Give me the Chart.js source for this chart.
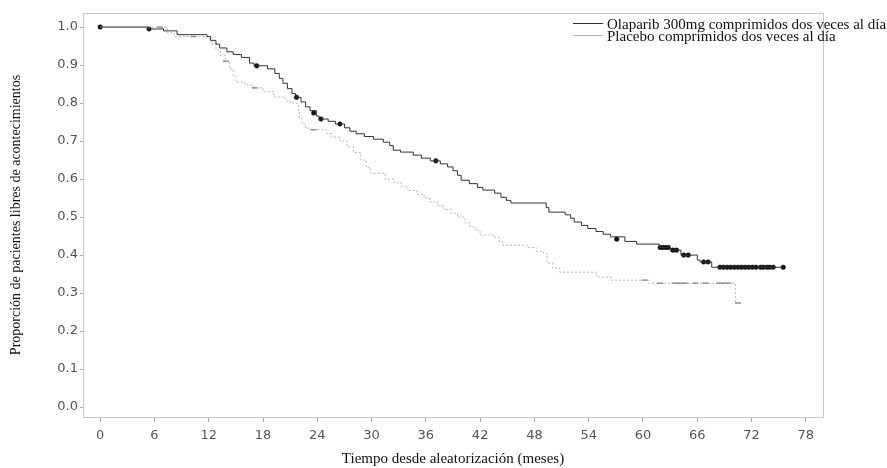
<!DOCTYPE html>
<html>
<head>
<meta charset="utf-8">
<script src="https://cdn.jsdelivr.net/npm/chart.js@4"></script>
<style>
  body { margin: 0; background: #fff; }
</style>
</head>
<body>
<canvas id="kmChart" width="887" height="468"></canvas>
<script>
// curva Olaparib (meses, proporción)
const olaTime = [0, 5.3, 7.0, 8.5, 11.8, 12.2, 12.8, 13.2, 14.0, 14.7, 15.6, 16.5, 17.0, 18.5, 19.3, 19.8, 20.2, 20.7, 21.2, 21.6, 22.2, 22.7, 23.2, 23.9, 24.2, 25.2, 26.0, 27.0, 27.6, 28.3, 29.2, 30.2, 31.3, 32.0, 32.4, 33.2, 34.6, 35.5, 36.5, 37.6, 38.4, 39.0, 39.5, 39.9, 40.8, 41.7, 42.3, 43.6, 44.3, 44.9, 45.4, 49.3, 49.6, 51.4, 52.0, 52.4, 53.2, 53.9, 54.8, 55.6, 56.4, 58.0, 59.3, 61.8, 63.0, 64.2, 66.0, 66.3, 67.6, 75.5];
const olaSurv = [1.0, 0.995, 0.99, 0.98, 0.975, 0.965, 0.955, 0.945, 0.935, 0.928, 0.92, 0.905, 0.898, 0.89, 0.878, 0.865, 0.852, 0.838, 0.825, 0.815, 0.803, 0.79, 0.78, 0.766, 0.758, 0.752, 0.745, 0.735, 0.726, 0.719, 0.712, 0.705, 0.697, 0.688, 0.676, 0.671, 0.663, 0.655, 0.648, 0.64, 0.632, 0.622, 0.61, 0.597, 0.588, 0.578, 0.571, 0.563, 0.552, 0.544, 0.537, 0.525, 0.513, 0.506, 0.497, 0.487, 0.478, 0.47, 0.462, 0.455, 0.448, 0.436, 0.429, 0.42, 0.413, 0.40, 0.387, 0.382, 0.368, 0.368];
const olaCensTime = [0, 5.4, 17.3, 21.7, 23.6, 24.4, 26.5, 37.1, 57.1, 61.9, 62.2, 62.5, 62.8, 63.3, 63.7, 64.5, 65.0, 66.7, 67.2, 68.5, 68.9, 69.3, 69.7, 70.1, 70.5, 70.9, 71.3, 71.7, 72.1, 72.5, 73.0, 73.3, 73.7, 74.0, 74.4, 75.5];
const olaCensSurv = [1.0, 0.995, 0.898, 0.815, 0.774, 0.758, 0.745, 0.648, 0.442, 0.42, 0.42, 0.42, 0.42, 0.413, 0.413, 0.40, 0.40, 0.382, 0.382, 0.368, 0.368, 0.368, 0.368, 0.368, 0.368, 0.368, 0.368, 0.368, 0.368, 0.368, 0.368, 0.368, 0.368, 0.368, 0.368, 0.368];

// curva Placebo
const plaTime = [0, 7.4, 8.2, 11.8, 12.3, 12.8, 13.3, 13.8, 14.3, 14.7, 15.0, 16.0, 17.0, 18.0, 19.2, 20.5, 21.0, 21.9, 22.0, 22.3, 22.7, 23.0, 25.0, 25.6, 26.5, 27.3, 28.0, 28.8, 29.4, 29.9, 31.5, 32.5, 33.3, 34.0, 35.0, 35.8, 36.4, 37.3, 38.0, 38.8, 39.5, 40.3, 40.9, 41.5, 42.0, 43.4, 44.1, 44.5, 47.2, 48.2, 49.0, 49.4, 50.0, 50.8, 54.9, 56.5, 60.6, 70.2, 70.8];
const plaSurv = [1.0, 0.985, 0.975, 0.97, 0.955, 0.94, 0.925, 0.91, 0.89, 0.87, 0.855, 0.848, 0.84, 0.83, 0.816, 0.805, 0.80, 0.78, 0.76, 0.745, 0.735, 0.73, 0.72, 0.71, 0.70, 0.685, 0.67, 0.65, 0.63, 0.615, 0.60, 0.59, 0.58, 0.57, 0.56, 0.55, 0.54, 0.53, 0.52, 0.51, 0.50, 0.485, 0.474, 0.465, 0.453, 0.447, 0.435, 0.426, 0.42, 0.41, 0.405, 0.379, 0.366, 0.355, 0.342, 0.334, 0.326, 0.274, 0.274];
const plaCensTime = [6.6, 10.3, 13.9, 17.1, 23.6, 60.2, 61.9, 63.5, 64.0, 64.6, 65.8, 66.9, 68.4, 68.8, 69.4, 70.5];
const plaCensSurv = [1.0, 0.975, 0.91, 0.84, 0.73, 0.334, 0.326, 0.326, 0.326, 0.326, 0.326, 0.326, 0.326, 0.326, 0.326, 0.274];

const seriesLabels = ["Olaparib 300mg comprimidos dos veces al día", "Placebo comprimidos dos veces al día"];
const xTickValues = [0, 6, 12, 18, 24, 30, 36, 42, 48, 54, 60, 66, 72, 78];
const yTickValues = [0, 0.1, 0.2, 0.3, 0.4, 0.5, 0.6, 0.7, 0.8, 0.9, 1.0];
const xTitle = "Tiempo desde aleatorización (meses)";
const yTitle = "Proporción de pacientes libres de acontecimientos";

const olaColor = "#333";
const plaColor = "#b4b4b4";

function pts(xs, ys) {
    return xs.map((x, i) => ({ x: x, y: ys[i] }));
}

// marco gris y leyenda dibujada a mano
const framePlugin = {
    id: "frame",
    afterDatasetsDraw(chart) {
        const a = chart.chartArea, ctx = chart.ctx;
        ctx.save();
        ctx.strokeStyle = "#c8c8c8";
        ctx.lineWidth = 1;
        ctx.strokeRect(a.left + 0.5, a.top + 0.5, a.right - a.left, a.bottom - a.top);
        ctx.restore();
    },
    afterDraw(chart) {
        const ctx = chart.ctx;
        const colors = [olaColor, plaColor];
        ctx.save();
        ctx.font = "15px 'Liberation Serif', 'Times New Roman', serif";
        ctx.textBaseline = "middle";
        seriesLabels.forEach((lab, i) => {
            const y = 23 + i * 12;
            ctx.strokeStyle = colors[i];
            ctx.lineWidth = 1;
            ctx.beginPath();
            ctx.moveTo(573, y + 0.5);
            ctx.lineTo(603, y + 0.5);
            ctx.stroke();
            ctx.fillStyle = "#111";
            ctx.fillText(lab, 607, y + 2);
        });
        ctx.restore();
    }
};

new Chart(document.getElementById("kmChart").getContext("2d"), {
    type: "line",
    data: {
        datasets: [
            {
                label: seriesLabels[0],
                data: pts(olaTime, olaSurv),
                borderColor: olaColor,
                borderWidth: 1,
                stepped: true,
                pointRadius: 0,
                fill: false
            },
            {
                label: seriesLabels[1],
                data: pts(plaTime, plaSurv),
                borderColor: plaColor,
                borderWidth: 1,
                borderDash: [2, 2],
                stepped: true,
                pointRadius: 0,
                fill: false
            },
            {
                type: "scatter",
                label: "olaCens",
                data: pts(olaCensTime, olaCensSurv),
                pointStyle: "circle",
                pointRadius: 2.3,
                backgroundColor: "#111",
                borderColor: "#111",
                borderWidth: 0.5
            },
            {
                type: "scatter",
                label: "plaCens",
                data: pts(plaCensTime, plaCensSurv),
                pointStyle: "line",
                pointRadius: 3,
                borderColor: "#888",
                borderWidth: 1.5
            }
        ]
    },
    options: {
        responsive: false,
        animation: false,
        layout: { padding: { left: 0, top: 13, right: 64, bottom: 0 } },
        plugins: {
            legend: { display: false },
            tooltip: { enabled: false }
        },
        scales: {
            x: {
                type: "linear",
                min: -1.9,
                max: 79.9,
                afterFit: s => { s.height = 51; },
                afterBuildTicks: s => { s.ticks = xTickValues.map(v => ({ value: v })); },
                grid: { drawOnChartArea: false, drawTicks: true, tickLength: 5, color: "#aaa" },
                border: { color: "#c8c8c8" },
                ticks: {
                    padding: 6,
                    color: "#555",
                    font: { family: "'DejaVu Sans', sans-serif", size: 13 },
                    maxRotation: 0,
                    callback: v => v
                },
                title: {
                    display: true,
                    text: xTitle,
                    color: "#111",
                    font: { family: "'Liberation Serif', serif", size: 15 },
                    padding: { top: 0, bottom: 0 }
                }
            },
            y: {
                type: "linear",
                min: -0.026,
                max: 1.037,
                afterFit: s => { s.width = 83; },
                afterBuildTicks: s => { s.ticks = yTickValues.map(v => ({ value: v })); },
                grid: { drawOnChartArea: false, drawTicks: true, tickLength: 3, color: "#aaa" },
                border: { color: "#c8c8c8" },
                ticks: {
                    padding: 2,
                    color: "#555",
                    font: { family: "'DejaVu Sans', sans-serif", size: 13 },
                    callback: v => v.toFixed(1)
                },
                title: {
                    display: true,
                    text: yTitle,
                    color: "#111",
                    font: { family: "'Liberation Serif', serif", size: 14 },
                    padding: { top: 8, bottom: 0 }
                }
            }
        }
    },
    plugins: [framePlugin]
});
</script>
</body>
</html>
